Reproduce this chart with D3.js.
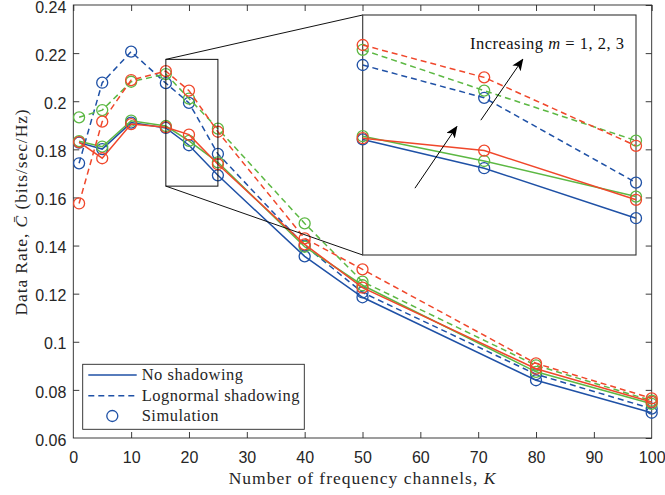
<!DOCTYPE html>
<html>
<head>
<meta charset="utf-8">
<script src="https://cdn.jsdelivr.net/npm/d3@7"></script>
<style>
  html, body { margin: 0; padding: 0; background: #fff; }
  svg { display: block; }
  .tick text { font-family: "Liberation Sans", Arial, sans-serif; font-size: 16px; fill: #262626; }
  .serif { font-family: "Liberation Serif", "Times New Roman", serif; fill: #262626; }
</style>
</head>
<body>
<svg id="chart" width="665" height="495"></svg>
<script>
// Number of frequency channels K
const channels = [1, 5, 10, 16, 20, 25, 40, 50, 80, 100];

// Average data rate, no shadowing (m = 1, 2, 3)
const noShadowM1 = [0.1828, 0.1801, 0.1911, 0.1889, 0.1817, 0.1692, 0.1355, 0.1185, 0.0840, 0.0705];
const noShadowM2 = [0.1834, 0.1811, 0.1919, 0.1897, 0.1835, 0.1746, 0.1395, 0.1235, 0.0875, 0.0742];
const noShadowM3 = [0.1830, 0.1763, 0.1905, 0.1892, 0.1861, 0.1738, 0.1405, 0.1225, 0.0888, 0.0750];

// Average data rate, lognormal shadowing (m = 1, 2, 3)
const lognormM1 = [0.1742, 0.2077, 0.2206, 0.2075, 0.1993, 0.1781, 0.1400, 0.1205, 0.0865, 0.0722];
const lognormM2 = [0.1933, 0.1963, 0.2081, 0.2113, 0.2011, 0.1886, 0.1492, 0.1250, 0.0902, 0.0755];
const lognormM3 = [0.1575, 0.1915, 0.2088, 0.2125, 0.2044, 0.1873, 0.1430, 0.1301, 0.0910, 0.0765];

const xTicks = [0, 10, 20, 30, 40, 50, 60, 70, 80, 90, 100];
const yTicks = [0.06, 0.08, 0.10, 0.12, 0.14, 0.16, 0.18, 0.20, 0.22, 0.24];
const yTickLabels = ["0.06", "0.08", "0.1", "0.12", "0.14", "0.16", "0.18", "0.2", "0.22", "0.24"];

const colors = { m1: "#1f51a6", m2: "#5cb843", m3: "#f0472b" };

const series = [
  { values: noShadowM1, color: colors.m1, dashed: false },
  { values: lognormM1, color: colors.m1, dashed: true },
  { values: noShadowM2, color: colors.m2, dashed: false },
  { values: lognormM2, color: colors.m2, dashed: true },
  { values: noShadowM3, color: colors.m3, dashed: false },
  { values: lognormM3, color: colors.m3, dashed: true }
];

// Zoomed region shown in the inset
const zoomX = [16, 25];
const zoomBoxY = [0.1647, 0.2174];
const insetY = [0.16, 0.22];

const svg = d3.select("#chart");
const axisColor = "#262626";

const plot = { left: 73.3, right: 651.7, top: 5, bottom: 438 };
const x = d3.scaleLinear().domain([0, 100]).range([plot.left, plot.right]);
const y = d3.scaleLinear().domain([0.06, 0.24]).range([plot.bottom, plot.top]);

// ---- axes (box with inward ticks on all sides) ----
const gx = svg.append("g").attr("transform", `translate(0,${plot.bottom})`)
  .call(d3.axisBottom(x).tickValues(xTicks).tickSize(-6).tickPadding(14).tickFormat(d3.format("d")));
const gxTop = svg.append("g").attr("transform", `translate(0,${plot.top})`)
  .call(d3.axisTop(x).tickValues(xTicks).tickSize(-6).tickFormat(""));
const gy = svg.append("g").attr("transform", `translate(${plot.left},0)`)
  .call(d3.axisLeft(y).tickValues(yTicks).tickSize(-6).tickPadding(7)
    .tickFormat((d, i) => yTickLabels[i]));
const gyRight = svg.append("g").attr("transform", `translate(${plot.right},0)`)
  .call(d3.axisRight(y).tickValues(yTicks).tickSize(-6).tickFormat(""));
[gx, gxTop, gy, gyRight].forEach(g => {
  g.select(".domain").remove();
  g.selectAll(".tick line").attr("stroke", axisColor).attr("stroke-width", 0.9);
});
gy.selectAll(".tick text").attr("dy", "0.45em");
gx.selectAll(".tick").filter(d => d === 0 || d === 100).select("line").remove();
gy.selectAll(".tick").filter(d => d === 0.06 || d === 0.24).select("line").remove();

svg.append("rect")
  .attr("x", plot.left).attr("y", plot.top)
  .attr("width", plot.right - plot.left).attr("height", plot.bottom - plot.top)
  .attr("fill", "none").attr("stroke", axisColor).attr("stroke-width", 0.9);

// ---- axis titles ----
svg.append("text").attr("class", "serif")
  .attr("x", (plot.left + plot.right) / 2).attr("y", 484)
  .attr("text-anchor", "middle").attr("font-size", 17.5).attr("letter-spacing", 1)
  .html('Number of frequency channels, <tspan font-style="italic">K</tspan>');

svg.append("text").attr("class", "serif")
  .attr("transform", "translate(27,212) rotate(-90)")
  .attr("text-anchor", "middle").attr("font-size", 17.5).attr("letter-spacing", 0.9)
  .html('Data Rate, <tspan font-style="italic">C\u0304</tspan> (bits/sec/Hz)');

// ---- data lines and markers ----
function drawSeries(g, xs, ys, data) {
  const line = d3.line().x(d => xs(d.k)).y(d => ys(d.v));
  data.forEach(s => {
    const pts = s.points;
    g.append("path").datum(pts)
      .attr("d", line)
      .attr("fill", "none")
      .attr("stroke", s.color)
      .attr("stroke-width", 1.5)
      .attr("stroke-dasharray", s.dashed ? "6,4" : null);
    g.selectAll(null).data(pts).enter().append("circle")
      .attr("cx", d => xs(d.k)).attr("cy", d => ys(d.v))
      .attr("r", 5.5)
      .attr("fill", "none")
      .attr("stroke", s.color)
      .attr("stroke-width", 1.3);
  });
}

const mainData = series.map(s => ({
  color: s.color, dashed: s.dashed,
  points: channels.map((k, i) => ({ k, v: s.values[i] }))
}));
drawSeries(svg.append("g"), x, y, mainData);

// ---- zoom box and inset ----
const inset = { left: 362.7, right: 636, top: 15, bottom: 255 };
const xi = d3.scaleLinear().domain(zoomX).range([inset.left, inset.right]);
const yi = d3.scaleLinear().domain(insetY).range([inset.bottom, inset.top]);

svg.append("rect")
  .attr("x", x(zoomX[0])).attr("y", y(zoomBoxY[1]))
  .attr("width", x(zoomX[1]) - x(zoomX[0])).attr("height", y(zoomBoxY[0]) - y(zoomBoxY[1]))
  .attr("fill", "none").attr("stroke", "#111").attr("stroke-width", 1);

svg.append("line")
  .attr("x1", x(zoomX[0])).attr("y1", y(zoomBoxY[1]))
  .attr("x2", inset.left).attr("y2", inset.top)
  .attr("stroke", "#111").attr("stroke-width", 1);
svg.append("line")
  .attr("x1", x(zoomX[0])).attr("y1", y(zoomBoxY[0]))
  .attr("x2", inset.left).attr("y2", inset.bottom)
  .attr("stroke", "#111").attr("stroke-width", 1);

svg.append("rect")
  .attr("x", inset.left).attr("y", inset.top)
  .attr("width", inset.right - inset.left).attr("height", inset.bottom - inset.top)
  .attr("fill", "#fff").attr("stroke", "#333").attr("stroke-width", 1.1);

const insetData = series.map(s => ({
  color: s.color, dashed: s.dashed,
  points: channels.map((k, i) => ({ k, v: s.values[i] }))
    .filter(d => d.k >= zoomX[0] && d.k <= zoomX[1])
}));
drawSeries(svg.append("g"), xi, yi, insetData);

// arrows pointing in the direction of increasing m
const defs = svg.append("defs");
defs.append("marker")
  .attr("id", "arrowHead")
  .attr("viewBox", "0 0 12 10")
  .attr("refX", 11).attr("refY", 5)
  .attr("markerWidth", 12).attr("markerHeight", 10)
  .attr("markerUnits", "userSpaceOnUse")
  .attr("orient", "auto")
  .append("path")
  .attr("d", "M0,0 L12,5 L0,10 L3,5 Z")
  .attr("fill", "#000");

const arrows = [
  { from: [17.72, 0.1767], to: [19.10, 0.1921] },
  { from: [19.89, 0.1937], to: [21.27, 0.2089] }
];
arrows.forEach(a => {
  svg.append("line")
    .attr("x1", xi(a.from[0])).attr("y1", yi(a.from[1]))
    .attr("x2", xi(a.to[0])).attr("y2", yi(a.to[1]))
    .attr("stroke", "#000").attr("stroke-width", 1)
    .attr("marker-end", "url(#arrowHead)");
});

svg.append("text").attr("class", "serif")
  .attr("x", xi(19.53)).attr("y", yi(0.2116))
  .attr("font-size", 16.5).attr("letter-spacing", 0.5)
  .style("fill", "#111")
  .html('Increasing <tspan font-style="italic">m</tspan> = 1, 2, 3');

// ---- legend ----
const legend = svg.append("g");
legend.append("rect")
  .attr("x", 82.7).attr("y", 364.3).attr("width", 221.6).attr("height", 65)
  .attr("fill", "#fff").attr("stroke", axisColor).attr("stroke-width", 0.9);

const legendItems = [
  { label: "No shadowing", type: "solid", y: 375 },
  { label: "Lognormal shadowing", type: "dashed", y: 395.7 },
  { label: "Simulation", type: "marker", y: 416 }
];
legendItems.forEach(item => {
  if (item.type === "marker") {
    legend.append("circle").attr("cx", 112.3).attr("cy", item.y).attr("r", 5.5)
      .attr("fill", "none").attr("stroke", colors.m1).attr("stroke-width", 1.3);
  } else {
    legend.append("line").attr("x1", 88.3).attr("x2", 136.7)
      .attr("y1", item.y).attr("y2", item.y)
      .attr("stroke", colors.m1).attr("stroke-width", 1.5)
      .attr("stroke-dasharray", item.type === "dashed" ? "6,4" : null);
  }
  legend.append("text").attr("class", "serif")
    .attr("x", 141.7).attr("y", item.y).attr("dy", "0.33em")
    .attr("font-size", 16.5).attr("letter-spacing", 0.5)
    .text(item.label);
});
</script>
</body>
</html>
